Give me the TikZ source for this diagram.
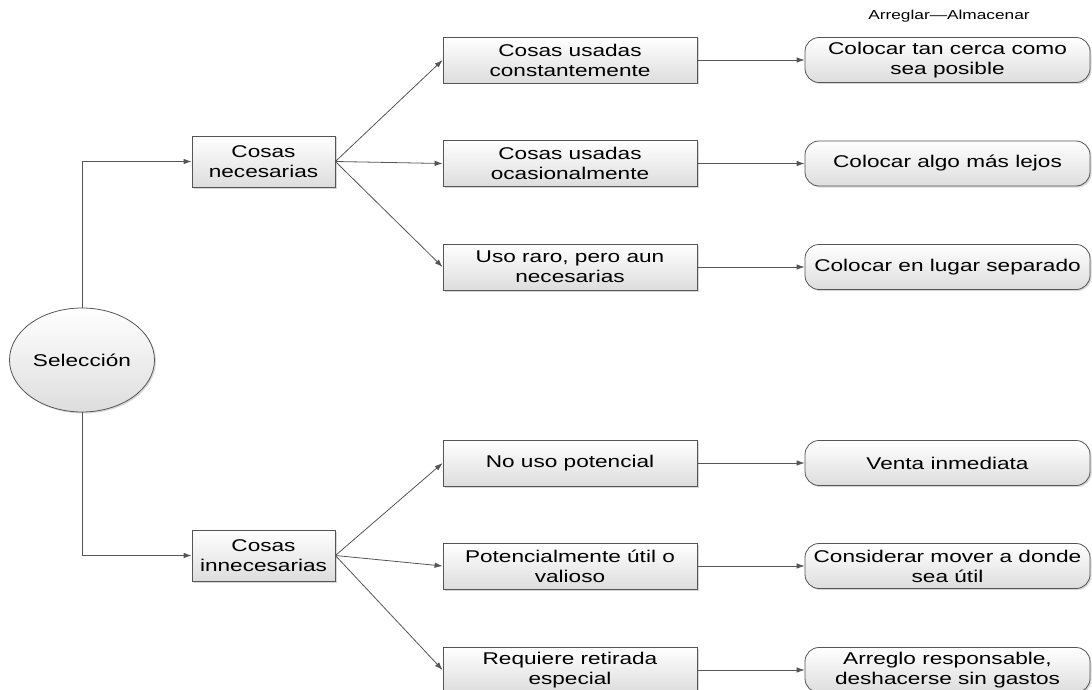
\documentclass[tikz,border=0pt]{standalone}
\usepackage{fontspec}
\setmainfont{Liberation Sans}[FakeStretch=1.33]
\usetikzlibrary{arrows.meta,shapes.geometric,shadows}
\definecolor{edgecol}{HTML}{555555}
\definecolor{shadecol}{HTML}{DDDDDD}
\begin{document}
\begin{tikzpicture}[x=1pt,y=-1pt,
  base/.style={draw=edgecol, line width=0.8pt, top color=white, bottom color=shadecol,
    align=center, inner sep=0pt, font=\fontsize{17}{20}\selectfont,
    drop shadow={shadow xshift=1.5pt, shadow yshift=-1.5pt, fill=black!30, opacity=0.5}},
  catbox/.style={base, minimum width=143pt, minimum height=51pt},
  midbox/.style={base, minimum width=254pt, minimum height=46pt},
  endbox/.style={base, rounded corners=14pt, minimum width=285pt, minimum height=45pt},
  selnode/.style={base, ellipse, minimum width=145pt, minimum height=104pt},
  conn/.style={draw=edgecol, line width=0.8pt, -{Latex[length=8pt,width=5.5pt]}}
]
\useasboundingbox (0,0) rectangle (1092,690);

\node[selnode] (sel) at (82,360) {Selección};
\node[catbox] (nec) at (263.5,161.5) {Cosas\\necesarias};
\node[catbox] (inn) at (263.5,555.5) {Cosas\\innecesarias};

\node[midbox] (m1) at (570,60) {Cosas usadas\\constantemente};
\node[midbox] (m2) at (570,163.5) {Cosas usadas\\ocasionalmente};
\node[midbox] (m3) at (570,267) {Uso raro, pero aun\\necesarias};
\node[midbox] (m4) at (570,463) {No uso potencial};
\node[midbox] (m5) at (570,566) {Potencialmente útil o\\valioso};
\node[midbox] (m6) at (570,670) {Requiere retirada\\especial};

\node[endbox] (e1) at (947.5,60) {Colocar tan cerca como\\sea posible};
\node[endbox] (e2) at (947.5,163.5) {Colocar algo más lejos};
\node[endbox] (e3) at (947.5,267) {Colocar en lugar separado};
\node[endbox] (e4) at (947.5,463) {Venta inmediata};
\node[endbox] (e5) at (947.5,566) {Considerar mover a donde\\sea útil};
\node[endbox] (e6) at (947.5,670) {Arreglo responsable,\\deshacerse sin gastos};

\node[font=\fontsize{13}{15}\selectfont] (title) at (949,16) {Arreglar—Almacenar};

\draw[conn] (sel.north) |- (nec.west);
\draw[conn] (sel.south) |- (inn.west);
\foreach \m in {m1,m2,m3} \draw[conn] (nec.east) -- (\m.west);
\foreach \m in {m4,m5,m6} \draw[conn] (inn.east) -- (\m.west);
\foreach \i in {1,...,6} \draw[conn] (m\i.east) -- (e\i.west);
\end{tikzpicture}
\end{document}
